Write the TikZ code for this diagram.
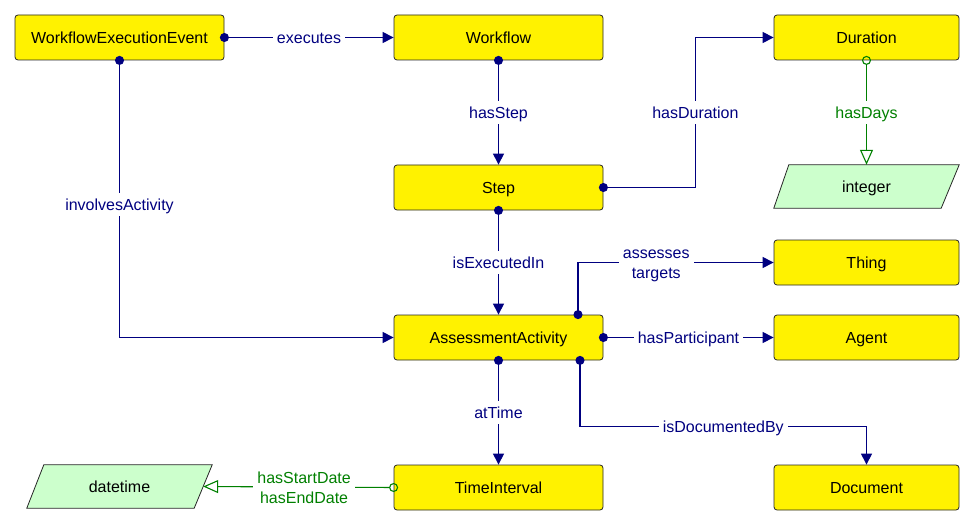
\documentclass[tikz,border=0pt]{standalone}
\usepackage{fontspec}
\setmainfont{Liberation Sans}
\usetikzlibrary{arrows.meta,backgrounds}
\definecolor{navy}{RGB}{0,0,128}
\definecolor{grn}{RGB}{0,128,0}
\definecolor{litegreen}{RGB}{204,255,204}
\begin{document}
\begin{tikzpicture}[x=1pt,y=-1pt,
  txt/.style={font=\fontsize{16}{20}\selectfont},
  one/.style={txt, text height=15.5pt, text depth=3.9pt},
  cls/.style={one, draw=black!85, fill=yellow, rounded corners=3pt, minimum width=209pt, minimum height=45pt, inner sep=0pt, line width=0.8pt},
  clsr/.style={cls, minimum width=185pt},
  dtype/.style={one, minimum width=185pt, minimum height=43pt, inner sep=0pt},
  para/.style={draw=black!85, fill=litegreen, line width=0.8pt},
  obj/.style={navy, line width=1.1pt, shorten <=-4.5pt, {Circle[length=9pt]}-{Triangle[length=11pt,width=11pt]}},
  dat/.style={grn, line width=1.1pt, shorten <=-4.5pt, {Circle[open,length=9pt]}-{Triangle[open,length=15pt,width=13pt]}},
  lbl/.style={one, fill=white, inner xsep=4pt, inner ysep=1.5pt, text=navy},
  lbltwo/.style={txt, fill=white, inner xsep=4pt, inner ysep=2pt, align=center},
  dlbltwo/.style={lbltwo, text=grn}]
\useasboundingbox (0,0) rectangle (975,524);

\node[cls]  (wee)   at (119.5,37.5)  {WorkflowExecutionEvent};
\node[cls]  (wf)    at (498.5,37.5)  {Workflow};
\node[clsr] (dur)   at (866.5,37.5)  {Duration};
\node[cls]  (step)  at (498.5,187.5) {Step};
\node[dtype](int)   at (866.5,186.5) {integer};
\node[clsr] (thing) at (866.5,262.5) {Thing};
\node[cls]  (aa)    at (498.5,337.5) {AssessmentActivity};
\node[clsr] (agent) at (866.5,337.5) {Agent};
\node[cls]  (ti)    at (498.5,487.5) {TimeInterval};
\node[clsr] (doc)   at (866.5,487.5) {Document};
\node[dtype](dt)    at (119.5,486.5) {datetime};
\coordinate (dtend) at ([xshift=-9pt]dt.east);

\begin{scope}[on background layer]
  \draw[para] ([xshift=15pt]int.north west) -- (int.north east) -- ([xshift=-18pt]int.south east) -- (int.south west) -- cycle;
  \draw[para] ([xshift=17pt]dt.north west) -- (dt.north east) -- ([xshift=-18pt]dt.south east) -- (dt.south west) -- cycle;
\end{scope}

\draw[obj] (wee.east) -- node[lbl]{executes} (wf.west);
\draw[obj] (wee.south) |- node[lbl,pos=0.26]{involvesActivity} (aa.west);
\draw[obj] (wf.south) -- node[lbl]{hasStep} (step.north);
\draw[obj] (step.east) -- ++(92,0) |- node[lbl,pos=0.25]{hasDuration} (dur.west);
\draw[dat] (dur.south) -- node[lbl,text=grn]{hasDays} (int.north);
\draw[obj] (step.south) -- node[lbl]{isExecutedIn} (aa.north);
\draw[obj] ([xshift=79.5pt]aa.north) |- node[lbltwo,text=navy,pos=0.7,yshift=-3.5pt]{assesses\\targets} (thing.west);
\draw[obj] (aa.east) -- node[lbl]{hasParticipant} (agent.west);
\draw[obj] (aa.south) -- node[lbl]{atTime} (ti.north);
\draw[obj] ([xshift=81.5pt]aa.south) -- ++(0,66) -| node[lbl,pos=0.25]{isDocumentedBy} (doc.north);
\draw[dat] (ti.west) -- node[dlbltwo,pos=0.47,yshift=-1pt]{hasStartDate\\hasEndDate} (dtend);
\end{tikzpicture}
\end{document}
